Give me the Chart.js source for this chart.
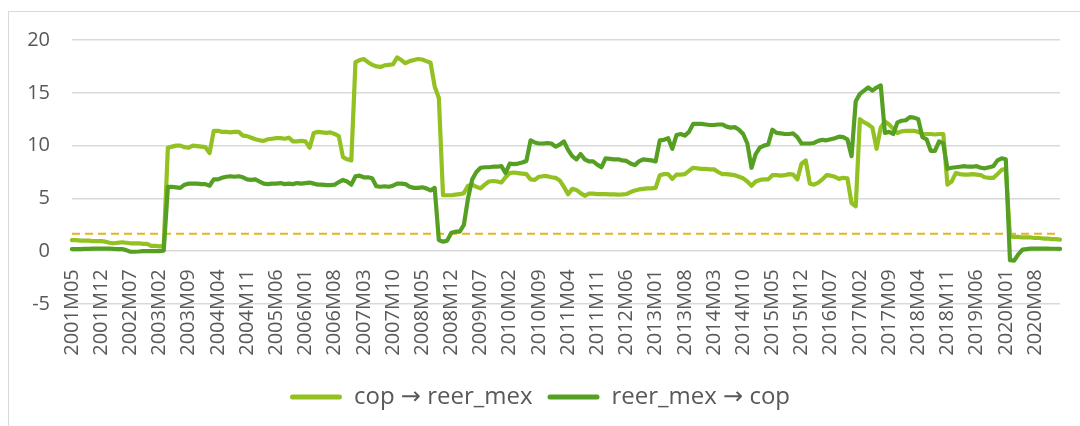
<!DOCTYPE html>
<html>
<head>
<meta charset="utf-8">
<script src="https://cdn.jsdelivr.net/npm/chart.js@4.4.1/dist/chart.umd.min.js"></script>
<style>
  html, body { margin: 0; padding: 0; background: #fff; overflow: hidden; }
  #frame { position: absolute; left: 8px; top: 11px; width: 1200px; height: 600px; border: 1px solid #d9d9d9; }
  #chart { position: absolute; left: 0; top: 0; }
</style>
</head>
<body>
<div id="frame"></div>
<canvas id="chart" width="1080" height="426"></canvas>
<script>
// months from 2001M05 to 2021M02
const startYear = 2001, startMonth = 5, monthCount = 238;
const months = [];
for (let k = 0; k < monthCount; k++) {
  const m = startMonth - 1 + k;
  const y = startYear + Math.floor(m / 12);
  months.push(y + 'M' + String(m % 12 + 1).padStart(2, '0'));
}
const labelStep = 7;

// cop -> reer_mex
const copToReer = [
  1.05, 1.05, 1.0, 1.0, 1.0, 0.95, 0.95, 0.95, 0.9, 0.8,
  0.75, 0.8, 0.85, 0.8, 0.75, 0.75, 0.75, 0.7, 0.7, 0.5,
  0.5, 0.45, 0.5, 9.8, 9.9, 10.0, 10.0, 9.85, 9.8, 10.0,
  9.95, 9.9, 9.85, 9.3, 11.4, 11.4, 11.3, 11.3, 11.25, 11.3,
  11.3, 10.95, 10.9, 10.75, 10.6, 10.5, 10.45, 10.6, 10.65, 10.7,
  10.7, 10.65, 10.75, 10.4, 10.4, 10.45, 10.4, 9.8, 11.2, 11.3,
  11.25, 11.2, 11.25, 11.1, 10.9, 8.9, 8.7, 8.6, 17.9, 18.1,
  18.2, 17.9, 17.65, 17.5, 17.45, 17.6, 17.65, 17.7, 18.35, 18.1,
  17.8, 18.0, 18.1, 18.2, 18.15, 18.0, 17.85, 15.6, 14.5, 5.3,
  5.3, 5.3, 5.35, 5.4, 5.5, 6.2, 6.3, 6.1, 5.95, 6.3,
  6.6, 6.65, 6.6, 6.5, 7.0, 7.4, 7.45, 7.4, 7.35, 7.3,
  6.8, 6.75, 7.05, 7.1, 7.1, 7.0, 6.95, 6.7, 6.1, 5.4,
  5.9, 5.8, 5.5, 5.25, 5.45, 5.45, 5.4, 5.4, 5.4, 5.38,
  5.38, 5.35, 5.38, 5.42, 5.6, 5.75, 5.85, 5.9, 5.95, 5.95,
  6.0, 7.2, 7.3, 7.3, 6.85, 7.25, 7.25, 7.3, 7.6, 7.9,
  7.85, 7.8, 7.8, 7.75, 7.75, 7.5, 7.3, 7.3, 7.25, 7.2,
  7.05, 6.9, 6.6, 6.2, 6.6, 6.75, 6.8, 6.8, 7.2, 7.2,
  7.15, 7.2, 7.3, 7.25, 6.8, 8.3, 8.6, 6.4, 6.3, 6.5,
  6.8, 7.2, 7.15, 7.05, 6.85, 6.95, 6.9, 4.55, 4.25, 12.5,
  12.2, 12.0, 11.7, 9.7, 11.7, 12.3, 12.0, 11.6, 11.2, 11.35,
  11.4, 11.4, 11.4, 11.3, 11.1, 11.1, 11.1, 11.05, 11.1, 11.1,
  6.3, 6.6, 7.4, 7.3, 7.25, 7.25, 7.3, 7.25, 7.2, 7.0,
  6.95, 6.95, 7.3, 7.7, 7.8, 1.4, 1.35, 1.35, 1.3, 1.3,
  1.3, 1.25, 1.25, 1.2, 1.2, 1.15, 1.15, 1.1
];

// reer_mex -> cop
const reerToCop = [
  0.2, 0.2, 0.2, 0.22, 0.22, 0.25, 0.25, 0.25, 0.25, 0.25,
  0.22, 0.2, 0.2, 0.1, -0.05, -0.05, -0.03, 0.0, 0.0, 0.0,
  0.0, 0.0, 0.05, 6.1, 6.1, 6.05, 6.0, 6.3, 6.4, 6.4,
  6.4, 6.35, 6.35, 6.2, 6.8, 6.8, 6.95, 7.05, 7.1, 7.05,
  7.1, 7.0, 6.8, 6.75, 6.8, 6.6, 6.4, 6.35, 6.4, 6.4,
  6.45, 6.35, 6.4, 6.35, 6.45, 6.4, 6.45, 6.5, 6.4, 6.3,
  6.3, 6.25, 6.25, 6.3, 6.55, 6.75, 6.6, 6.3, 7.1, 7.15,
  7.0, 7.0, 6.9, 6.15, 6.1, 6.15, 6.1, 6.2, 6.4, 6.4,
  6.35, 6.1, 6.0, 6.0, 6.05, 5.95, 5.75, 6.0, 1.05, 0.9,
  1.0, 1.75, 1.85, 1.85, 2.5, 5.0, 6.8, 7.5, 7.9, 7.95,
  7.95, 8.0, 8.0, 8.05, 7.4, 8.3, 8.25, 8.3, 8.4, 8.55,
  10.5, 10.3, 10.2, 10.2, 10.25, 10.2, 9.9, 10.1, 10.4, 9.6,
  9.0, 8.7, 9.2, 8.7, 8.5, 8.5, 8.2, 7.95, 8.8, 8.75,
  8.7, 8.7, 8.6, 8.55, 8.3, 8.15, 8.5, 8.7, 8.65, 8.6,
  8.5, 10.5, 10.55, 10.7, 9.7, 11.0, 11.1, 10.95, 11.3, 12.05,
  12.05, 12.05, 12.0, 11.95, 11.95, 12.0, 12.0, 11.8, 11.7, 11.75,
  11.5, 11.1, 10.2, 7.9, 9.2, 9.8, 10.0, 10.1, 11.5, 11.2,
  11.15, 11.1, 11.1, 11.15, 10.8, 10.2, 10.2, 10.2, 10.25, 10.45,
  10.55, 10.5, 10.6, 10.7, 10.85, 10.8, 10.6, 9.0, 14.2, 14.9,
  15.2, 15.5, 15.2, 15.5, 15.7, 11.2, 11.3, 11.1, 12.2, 12.35,
  12.4, 12.7, 12.65, 12.5, 10.8, 10.6, 9.5, 9.5, 10.4, 10.2,
  7.8, 7.9, 7.95, 8.0, 8.05, 8.0, 8.0, 8.05, 7.9, 7.85,
  7.95, 8.05, 8.6, 8.8, 8.7, -0.85, -0.9, -0.3, 0.15, 0.2,
  0.25, 0.25, 0.25, 0.25, 0.24, 0.23, 0.23, 0.22
];

// critical value line
const threshold = 1.65;

const yTicks = { min: -5, max: 20, step: 5 };
const textColor = '#595959';
const lightGreen = '#92c121';
const darkGreen = '#55a023';

Chart.defaults.font.family = "'Open Sans', 'DejaVu Sans', sans-serif";
Chart.defaults.color = textColor;

new Chart(document.getElementById('chart'), {
  type: 'line',
  data: {
    labels: months,
    datasets: [
      {
        label: 'cop \u2192 reer_mex',
        data: copToReer,
        borderColor: lightGreen,
        backgroundColor: lightGreen,
        borderWidth: 4.2,
        pointRadius: 0,
        borderJoinStyle: 'round',
        borderCapStyle: 'round',
        order: 1
      },
      {
        label: 'reer_mex \u2192 cop',
        data: reerToCop,
        borderColor: darkGreen,
        backgroundColor: darkGreen,
        borderWidth: 4.2,
        pointRadius: 0,
        borderJoinStyle: 'round',
        borderCapStyle: 'round',
        order: 0
      },
      {
        label: 'threshold',
        data: months.map(() => threshold),
        borderColor: '#e6b422',
        borderWidth: 2,
        borderDash: [8, 5],
        pointRadius: 0,
        order: 2
      }
    ]
  },
  options: {
    responsive: false,
    animation: false,
    devicePixelRatio: 1,
    layout: { padding: { left: 20, right: 20, top: 40, bottom: 7 } },
    plugins: {
      tooltip: { enabled: false },
      legend: {
        position: 'bottom',
        labels: {
          boxWidth: 52,
          boxHeight: 5,
          padding: 15,
          useBorderRadius: true,
          borderRadius: 2.5,
          color: textColor,
          font: { size: 24 },
          generateLabels(chart) {
            return Chart.defaults.plugins.legend.labels.generateLabels(chart)
              .filter(l => l.datasetIndex < 2)
              .sort((a, b) => a.datasetIndex - b.datasetIndex)
              .map(l => ({ ...l, lineWidth: 0, fillStyle: chart.data.datasets[l.datasetIndex].borderColor }));
          }
        }
      }
    },
    scales: {
      x: {
        position: { y: 0 },
        offset: false,
        grid: { display: false, drawTicks: false },
        border: { display: false },
        ticks: {
          autoSkip: false,
          minRotation: 90,
          maxRotation: 90,
          padding: 18,
          color: textColor,
          font: { size: 20 },
          callback(value, index) {
            return index % labelStep === 0 ? months[index] : null;
          }
        }
      },
      // empty bottom axis that keeps room under the plot for the labels
      xSpace: {
        type: 'linear',
        position: 'bottom',
        grid: { display: false, drawTicks: false },
        border: { display: false },
        ticks: { display: false },
        afterFit(scale) { scale.height = 66; }
      },
      y: {
        min: yTicks.min,
        max: yTicks.max,
        grid: { color: '#d9d9d9', lineWidth: 1.5, drawTicks: false },
        border: { display: false },
        ticks: { stepSize: yTicks.step, padding: 22, color: textColor, font: { size: 20 } },
        afterFit(scale) { scale.width = 52; }
      }
    }
  }
});
</script>
</body>
</html>
